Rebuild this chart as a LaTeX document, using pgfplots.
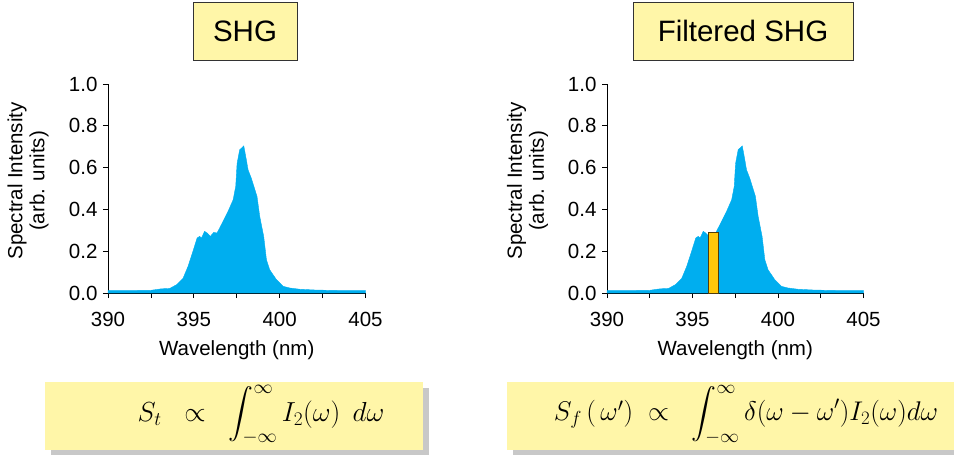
\RequirePackage{fix-cm}
\documentclass[border=0pt]{standalone}
\usepackage{exscale}
\usepackage[no-math]{fontspec}
\setmainfont{Liberation Sans}
\usepackage{pgfplots}
\pgfplotsset{compat=1.18}
\definecolor{specblue}{RGB}{0,174,239}
\definecolor{boxyellow}{RGB}{255,246,168}
\definecolor{bargold}{RGB}{255,200,10}
\definecolor{bardark}{RGB}{80,60,10}
\definecolor{shadowgray}{RGB}{200,200,200}
\pgfplotsset{
  specaxis/.style={
    scale only axis,
    height=209pt,
    xmin=390, xmax=405, ymin=0, ymax=1.0,
    axis lines*=left,
    axis line style={black, line width=0.8pt},
    xtick={390,395,400,405},
    minor xtick={392.5,397.5,402.5},
    ytick={0,0.2,0.4,0.6,0.8,1.0},
    yticklabel style={/pgf/number format/fixed, /pgf/number format/fixed zerofill, /pgf/number format/precision=1, xshift=-2pt},
    /pgf/number format/assume math mode=true,
    tick align=outside,
    major tick length=5pt, minor tick length=5pt,
    tick style={black, line width=0.8pt},
    ticklabel style={font=\fontsize{20.5}{23}\selectfont},
    xticklabel style={yshift=-11pt},
    xlabel={Wavelength (nm)},
    ylabel={Spectral Intensity\\(arb. units)},
    label style={font=\fontsize{20.5}{22}\selectfont},
    xlabel style={at={(axis description cs:0.5,0)}, anchor=center, yshift=-57pt},
    ylabel style={align=center, at={(axis description cs:-0.31,0.536)}, anchor=center, rotate=0},
    clip=false,
  }
}
\begin{document}
\begin{tikzpicture}
\useasboundingbox (0pt,0pt) rectangle (954pt,-455pt);
% left axis
\begin{axis}[specaxis, width=257.5pt, at={(108pt,-293pt)}, anchor=south west]
\addplot[fill=specblue, draw=specblue, line width=0.4pt] coordinates {
(390.0,0.012)(391.5,0.012)(392.5,0.013)(393.11,0.02)(393.6,0.022)(394.0,0.04)(394.37,0.07)(394.66,0.127)(394.95,0.2)(395.19,0.263)(395.34,0.271)(395.44,0.263)(395.63,0.295)(395.77,0.287)(395.96,0.271)(396.16,0.29)(396.35,0.287)(396.6,0.326)(396.99,0.39)(397.29,0.446)(397.44,0.51)(397.52,0.62)(397.67,0.685)(397.77,0.693)(397.91,0.704)(398.06,0.637)(398.16,0.589)(398.35,0.549)(398.68,0.462)(398.84,0.366)(399.07,0.271)(399.23,0.159)(399.42,0.111)(399.81,0.064)(400.2,0.032)(400.59,0.024)(401.17,0.018)(402.14,0.014)(403.5,0.012)(405.0,0.012)
} \closedcycle;
\end{axis}
% right axis
\begin{axis}[specaxis, width=256.5pt, at={(607pt,-293pt)}, anchor=south west]
\addplot[fill=specblue, draw=specblue, line width=0.4pt] coordinates {
(390.0,0.012)(391.5,0.012)(392.5,0.013)(393.11,0.02)(393.6,0.022)(394.0,0.04)(394.37,0.07)(394.66,0.127)(394.95,0.2)(395.19,0.263)(395.34,0.271)(395.44,0.263)(395.63,0.295)(395.77,0.287)(395.96,0.271)(396.16,0.29)(396.35,0.287)(396.6,0.326)(396.99,0.39)(397.29,0.446)(397.44,0.51)(397.52,0.62)(397.67,0.685)(397.77,0.693)(397.91,0.704)(398.06,0.637)(398.16,0.589)(398.35,0.549)(398.68,0.462)(398.84,0.366)(399.07,0.271)(399.23,0.159)(399.42,0.111)(399.81,0.064)(400.2,0.032)(400.59,0.024)(401.17,0.018)(402.14,0.014)(403.5,0.012)(405.0,0.012)
} \closedcycle;
\addplot[fill=bargold, draw=bardark, line width=0.8pt] coordinates {(395.94,0.288)(396.53,0.288)} \closedcycle;
\end{axis}
% title boxes
\node[draw=black!80, line width=0.6pt, fill=boxyellow, minimum width=104pt, minimum height=58pt, inner sep=0pt, font=\fontsize{29.5}{32}\selectfont] at (245pt,-31pt) {SHG};
\node[draw=black!80, line width=0.6pt, fill=boxyellow, minimum width=220pt, minimum height=58pt, inner sep=0pt, font=\fontsize{29.5}{32}\selectfont] at (743pt,-31pt) {Filtered SHG};
% formula boxes
\fill[shadowgray] (51pt,-388pt) rectangle (429pt,-456pt);
\fill[boxyellow] (45pt,-382pt) rectangle (423pt,-450pt);
\node[font=\fontsize{27.5}{31}\selectfont] at (261pt,-415pt) {$S_t \;\;\propto\;\; \displaystyle\int_{-\infty}^{\infty} I_2(\omega)\;\, d\omega$};
\fill[shadowgray] (513pt,-388pt) rectangle (960pt,-456pt);
\fill[boxyellow] (507pt,-382pt) rectangle (954pt,-450pt);
\node[font=\fontsize{27}{31}\selectfont] at (746pt,-415pt) {$S_f\,(\,\omega')\;\propto\;\; \displaystyle\int_{-\infty}^{\infty}\delta(\omega-\omega')I_2(\omega)d\omega$};
\end{tikzpicture}
\end{document}
